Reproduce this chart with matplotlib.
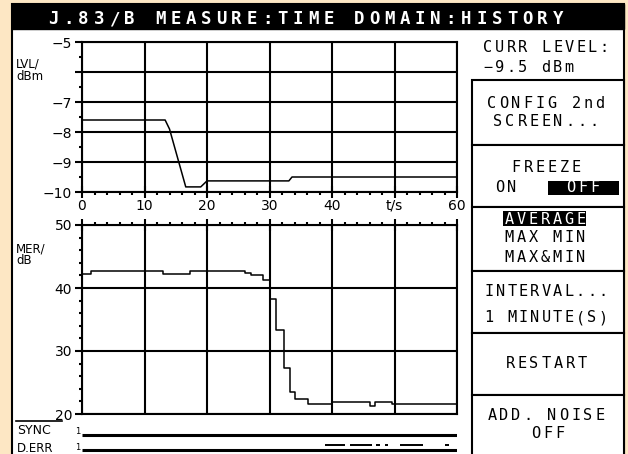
import matplotlib.pyplot as plt
from matplotlib.patches import Rectangle
from matplotlib.ticker import MultipleLocator

# level history, dBm over t/s
lvl_t = [0, 13.3, 14.0, 16.6, 19.0, 20.0, 33.1, 33.6, 60]
lvl_dbm = [-7.6, -7.6, -7.9, -9.83, -9.83, -9.63, -9.63, -9.5, -9.5]

# MER history (steps), dB
mer_t = [0, 1.4, 13.0, 17.2, 26.1, 27.0, 29.0, 30.0, 31.1, 32.3, 33.3, 34.1,
         36.2, 40.0, 46.1, 46.9, 49.6, 60]
mer_db = [42.2, 42.7, 42.3, 42.7, 42.4, 42.0, 41.3, 38.2, 33.3, 27.3, 23.5, 22.4,
          21.6, 21.9, 21.2, 21.9, 21.6, 21.6]

# status rows: SYNC always ok, D.ERR error intervals (s)
sync_t = [0, 60]
derr_on = [(38.9, 42.1), (42.9, 46.4), (47.0, 47.7), (48.5, 49.0), (50.9, 54.6), (58.1, 58.7)]

lvl_ticks = [-10, -9, -8, -7, -6, -5]
lvl_labels = ["\u221210", "\u22129", "\u22128", "\u22127", "", "\u22125"]
mer_ticks = [20, 30, 40, 50]
t_ticks = [0, 10, 20, 30, 40, 50, 60]
t_labels = ["0", "10", "20", "30", "40", "t/s", "60"]

W, H = 628, 454
BG = "#fde7c4"
MONO = "DejaVu Sans Mono"

fig = plt.figure(figsize=(W / 100, H / 100), dpi=100)
fig.patch.set_facecolor(BG)

# screen frame, in pixel coords
scr = fig.add_axes([0, 0, 1, 1])
scr.set_xlim(0, W)
scr.set_ylim(H, 0)
scr.axis("off")
scr.add_patch(Rectangle((12, 4), 612, 460, fc="white", ec="black", lw=1.5))
scr.add_patch(Rectangle((12, 4), 612, 25, fc="black", ec="black", lw=1))


def spaced(x, y, s, pitch, center=True, **kw):
    # instrument font is wide, so place char by char
    if center:
        x = x - (len(s) - 1) * pitch / 2
    for i, ch in enumerate(s):
        scr.text(x + i * pitch, y, ch, ha="center", va="center", family=MONO, **kw)


spaced(53, 19, "J.83/B MEASURE:TIME DOMAIN:HISTORY", 15.3, center=False,
       color="white", fontsize=12.5, fontweight="bold")

# soft key panel
for y0, y1 in [(80, 145), (145, 207), (207, 271), (271, 333), (333, 395), (395, 460)]:
    scr.add_patch(Rectangle((472, y0), 152, y1 - y0, fc="white", ec="black", lw=1.5))

cx = 546
fs = 11
spaced(488, 47, "CURR LEVEL:", 11.6, center=False, fontsize=fs)
spaced(488, 67, "\u22129.5 dBm", 11.6, center=False, fontsize=fs)
spaced(cx, 104, "CONFIG 2nd", 12, fontsize=fs)
spaced(cx, 122, "SCREEN...", 12, fontsize=fs)
spaced(cx, 167, "FREEZE", 12, fontsize=fs)
spaced(506, 188, "ON", 12, fontsize=fs)
scr.add_patch(Rectangle((548, 181), 71, 14, fc="black", ec="none"))
spaced(583, 188, "OFF", 12, fontsize=fs, color="white")
scr.add_patch(Rectangle((503, 211), 83, 15, fc="black", ec="none"))
spaced(545, 219, "AVERAGE", 12, fontsize=fs, color="white")
spaced(545, 238, "MAX MIN", 12, fontsize=fs)
spaced(545, 258, "MAX&MIN", 12, fontsize=fs)
spaced(cx, 292, "INTERVAL...", 11.4, fontsize=fs)
spaced(cx, 318, "1 MINUTE(S)", 11.4, fontsize=fs)
spaced(cx, 363, "RESTART", 12, fontsize=fs)
spaced(cx, 415, "ADD. NOISE", 12, fontsize=fs)
spaced(548, 433, "OFF", 12, fontsize=fs)

# axis name labels
scr.text(16, 70, "LVL/\ndBm", fontsize=8.5, va="center", ha="left", linespacing=0.9)
scr.text(16, 255, "MER/\ndB", fontsize=8.5, va="center", ha="left", linespacing=0.9)
scr.text(17, 431, "SYNC", fontsize=9, va="center", ha="left")
scr.plot([16, 62], [421, 421], color="black", lw=1.2)
scr.text(17, 448, "D.ERR", fontsize=8.5, va="center", ha="left")
scr.text(80, 432, "1", fontsize=6, va="center", ha="right")
scr.text(80, 448, "1", fontsize=6, va="center", ha="right")

L, R = 82, 457


def px_axes(top, bottom):
    return fig.add_axes([L / W, 1 - bottom / H, (R - L) / W, (bottom - top) / H])


def style(ax):
    ax.set_facecolor("white")
    for sp in ax.spines.values():
        sp.set_linewidth(1.5)
    ax.grid(True, which="major", color="black", lw=1.5)
    ax.set_axisbelow(False)
    ax.tick_params(which="both", width=1.5, colors="black", labelsize=10)


# top: level
ax1 = px_axes(42, 192)
style(ax1)
ax1.plot(lvl_t, lvl_dbm, color="black", lw=1.1)
ax1.set_xlim(0, 60)
ax1.set_ylim(-10, -5)
ax1.set_yticks(lvl_ticks)
ax1.set_yticklabels(lvl_labels)
ax1.yaxis.set_minor_locator(MultipleLocator(0.5))
ax1.set_xticks(t_ticks)
ax1.set_xticklabels(t_labels)
ax1.xaxis.set_minor_locator(MultipleLocator(2))
ax1.tick_params(axis="y", which="major", direction="out", length=5, pad=2)
ax1.tick_params(axis="y", which="minor", direction="out", length=2)
ax1.tick_params(axis="x", which="major", direction="inout", length=8, pad=1)
ax1.tick_params(axis="x", which="minor", direction="out", length=2)

# bottom: MER
ax2 = px_axes(225, 414)
style(ax2)
ax2.plot(mer_t, mer_db, color="black", lw=1.1, drawstyle="steps-post")
ax2.set_xlim(0, 60)
ax2.set_ylim(20, 50)
ax2.set_yticks(mer_ticks)
ax2.yaxis.set_minor_locator(MultipleLocator(2))
ax2.set_xticks(t_ticks)
ax2.xaxis.set_minor_locator(MultipleLocator(2))
ax2.xaxis.tick_top()
ax2.tick_params(axis="x", labeltop=False, labelbottom=False)
ax2.tick_params(axis="y", which="major", direction="out", length=5, pad=2)
ax2.tick_params(axis="y", which="minor", direction="out", length=2)
ax2.tick_params(axis="x", which="major", direction="inout", length=8)
ax2.tick_params(axis="x", which="minor", direction="out", length=2)

# status rows (y in pixels from the image bottom)
ax3 = fig.add_axes([L / W, 0, (R - L) / W, 36 / H])
ax3.axis("off")
ax3.set_xlim(0, 60)
ax3.set_ylim(0, 36)
ax3.hlines(19, sync_t[0], sync_t[-1], color="black", lw=2.2)
# D.ERR: base line plus short dashes one row up where errors were seen
ax3.hlines(4, sync_t[0], sync_t[-1], color="black", lw=2.2)
ax3.hlines([9] * len(derr_on), [a for a, b in derr_on], [b for a, b in derr_on],
           color="black", lw=1.4)

fig.savefig("out.png", dpi=100, facecolor=BG)
